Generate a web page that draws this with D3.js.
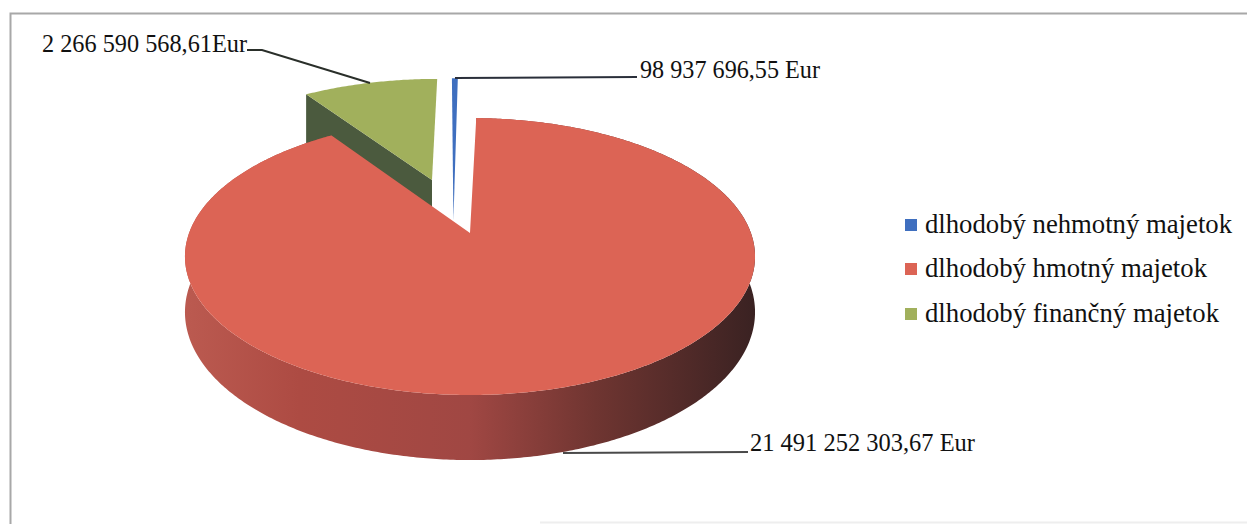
<!DOCTYPE html>
<html><head><meta charset="utf-8">
<script src="https://cdn.jsdelivr.net/npm/d3@7/dist/d3.min.js"></script>
<style>html,body{margin:0;padding:0;background:#fff}svg{display:block}text{font-family:"Liberation Serif",serif;fill:#111}</style>
</head><body><svg id="c" width="1247" height="524"></svg>
<script>
const categories = ["dlhodobý nehmotný majetok","dlhodobý hmotný majetok","dlhodobý finančný majetok"];
const values = [98937696.55, 21491252303.67, 2266590568.61];
const valueLabels = ["98 937 696,55 Eur","21 491 252 303,67 Eur","2 266 590 568,61Eur"];
const colors = ["#3f6fbf","#dc6455","#a1b05c"];

const svg = d3.select("#c");
// frame
svg.append("path").attr("d","M1247 13.5H10.5V524").attr("fill","none").attr("stroke","#a8a8a8").attr("stroke-width",2);
svg.append("path").attr("d","M540 522.5H1247").attr("fill","none").attr("stroke","#eeeeee").attr("stroke-width",2);

// perspective view of the pie: unit disc -> screen
const cx=470, k=0.1697, A=-94.98, B=233, R=280.9, DEPTH=54;
const project=(u,v,z=0)=>{const w=1+k*v;return [cx+R*u/w,(A*v+B)/w+z*DEPTH/w];};
const pie=d3.pie().sort(null).value(d=>d)(values);
const arcPts=(a0,a1,ox=0,oy=0,z=0)=>{const n=Math.max(2,Math.ceil((a1-a0)/0.01));
  return d3.range(n+1).map(i=>{const t=a0+(a1-a0)*i/n;return project(Math.sin(t)+ox,Math.cos(t)+oy,z);});};
const path=pts=>d3.line()(pts)+"Z";

const defs=svg.append("defs");
const g=defs.append("linearGradient").attr("id","wall").attr("gradientUnits","userSpaceOnUse")
 .attr("x1",185).attr("x2",755).attr("y1",0).attr("y2",0);
[[0,"#bb5a50"],[0.2,"#ad4b43"],[0.5,"#a04743"],[0.72,"#6f3531"],[1,"#3a2222"]]
 .forEach(([o,c])=>g.append("stop").attr("offset",o).attr("stop-color",c));

// explosion offsets in disc units
const offGreen=[-0.145,0.422], offBlue=[-0.08,0.43], apexBlue=[-0.06,0.098];

// green: cut face then top
const gs=pie[2];
const gLeft=project(Math.sin(gs.startAngle)+offGreen[0],Math.cos(gs.startAngle)+offGreen[1]);
const gApex=project(offGreen[0],offGreen[1]);
svg.append("path").attr("fill","#4b5a3e").attr("d",path([gLeft,gApex,[gApex[0],gApex[1]+DEPTH],[gLeft[0],gLeft[1]+DEPTH]]));
svg.append("path").attr("fill",colors[2]).attr("d",path([gApex,...arcPts(gs.startAngle,gs.endAngle,offGreen[0],offGreen[1])]));

// blue
const bs=pie[0];
svg.append("path").attr("fill",colors[0]).attr("d",path([project(apexBlue[0],apexBlue[1]),...arcPts(bs.startAngle,bs.endAngle,offBlue[0],offBlue[1])]));

// red: wall, then top
const rs=pie[1];
svg.append("path").attr("fill","url(#wall)").attr("d",path([...arcPts(rs.startAngle,rs.endAngle),...arcPts(rs.startAngle,rs.endAngle,0,0,1).reverse()]));
svg.append("path").attr("fill",colors[1]).attr("d",path([project(0,0),...arcPts(rs.startAngle,rs.endAngle)]));

// leaders
const leaders=[[[455,78],[637,77]],[[563,453],[748,452]],[[247,50],[262,50],[370,83]]];
const leaderCols=["#2a2f3a","#4a4a4a","#2a2f2a"];
leaders.forEach((p,i)=>svg.append("path").attr("d",d3.line()(p)).attr("fill","none").attr("stroke",leaderCols[i]).attr("stroke-width",2));

// value labels
const labelPos=[[640,78],[750,451],[42,52]];
const labelW=[180,225,205];
valueLabels.forEach((t,i)=>svg.append("text").attr("x",labelPos[i][0]).attr("y",labelPos[i][1])
  .attr("font-size",25).attr("textLength",labelW[i]).attr("lengthAdjust","spacingAndGlyphs").text(t));

// legend
const rows=[225,269,314], baselines=[233,277,322], lw=[307,282,294];
categories.forEach((t,i)=>{
  svg.append("rect").attr("x",905).attr("y",rows[i]-6).attr("width",12).attr("height",12).attr("fill",colors[i]);
  svg.append("text").attr("x",925).attr("y",baselines[i]).attr("font-size",27)
    .attr("textLength",lw[i]).attr("lengthAdjust","spacingAndGlyphs").text(t);
});
</script></body></html>
